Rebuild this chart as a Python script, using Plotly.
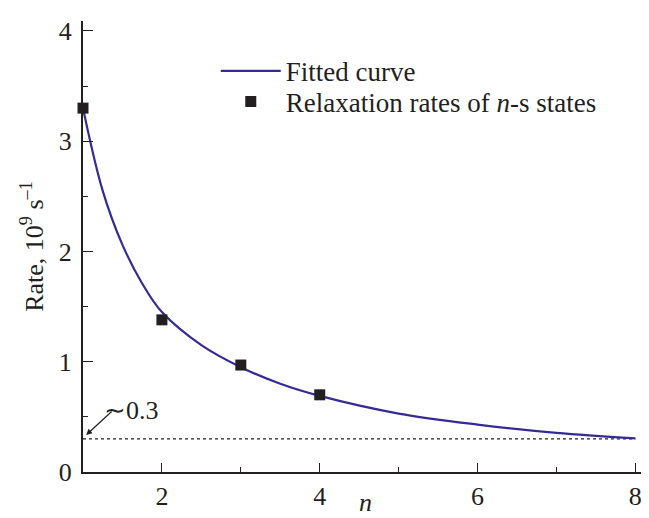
import plotly.graph_objects as go

# Measured relaxation rates of n-s states
n_states = [1, 2, 3, 4]
rates = [3.30, 1.38, 0.97, 0.70]

# Fitted curve
fit_n = [1.0, 1.25, 1.5, 1.75, 2.0, 2.5, 3.0, 3.5, 4.0, 5.0, 6.0, 7.0, 8.0]
fit_rate = [3.30, 2.55, 2.06, 1.71, 1.45, 1.15, 0.95, 0.80, 0.69, 0.53, 0.43, 0.355, 0.305]

# Asymptotic level
asym_n = [1, 8]
asym_rate = [0.3, 0.3]

x_ticks = [2, 4, 6, 8]
y_ticks = [0, 1, 2, 3, 4]

INK = "#231f20"
CURVE = "#352b95"
FONT = "Liberation Serif"
FS = 26
LFS = 27

fig = go.Figure()
fig.add_trace(go.Scatter(
    x=asym_n, y=asym_rate, mode="lines", showlegend=False,
    line=dict(color=INK, width=1.3, dash="dot"), hoverinfo="skip"))
fig.add_trace(go.Scatter(
    x=fit_n, y=fit_rate, mode="lines", name="Fitted curve", legend="legend",
    line=dict(color=CURVE, width=2.2, shape="spline", smoothing=1.0)))
fig.add_trace(go.Scatter(
    x=n_states, y=rates, mode="markers", legend="legend2",
    name="Relaxation rates of <i>n</i>-s states",
    marker=dict(symbol="square", size=11, color=INK),
    cliponaxis=False))

fig.add_annotation(x=1.04, y=0.335, xref="x", yref="y", text="",
                   showarrow=True, ax=27, ay=-25, arrowhead=2, arrowsize=1,
                   arrowwidth=1.2, arrowcolor=INK, standoff=0, startstandoff=0)
fig.add_annotation(x=1.62, y=0.56, xref="x", yref="y", text="∼0.3",
                   showarrow=False, font=dict(family=FONT, size=FS, color=INK))
# x-axis title
fig.add_annotation(x=0.5, y=-0.105, xref="paper", yref="paper", text="<i>n</i>",
                   xanchor="center", yanchor="bottom", showarrow=False,
                   font=dict(family=FONT, size=FS, color=INK))

leg_common = dict(xanchor="left", yanchor="middle", bgcolor="rgba(0,0,0,0)",
                  borderwidth=0, font=dict(family=FONT, size=LFS, color=INK),
                  itemwidth=60)

fig.update_layout(
    width=649, height=518,
    margin=dict(l=75, r=9, t=9, b=54),
    paper_bgcolor="white", plot_bgcolor="white",
    font=dict(family=FONT, size=FS, color=INK),
    showlegend=True,
    legend=dict(x=0.235, y=0.8886, **leg_common),
    legend2=dict(x=0.235, y=0.8204, **leg_common),
)
fig.update_xaxes(
    range=[1, 8.16], tickvals=x_ticks, ticktext=[str(v) for v in x_ticks],
    ticks="inside", ticklen=9, tickwidth=1.3, tickcolor=INK,
    minor=dict(tick0=1, dtick=1, ticks="inside", ticklen=5, tickwidth=1.3, tickcolor=INK),
    showline=True, linecolor=INK, linewidth=2.2, showgrid=False, zeroline=False,
    tickfont=dict(family=FONT, size=FS, color=INK))
fig.update_yaxes(
    range=[0, 4.09], tickvals=y_ticks, ticktext=[str(v) for v in y_ticks],
    ticks="inside", ticklen=10, tickwidth=1.3, tickcolor=INK,
    ticklabelstandoff=4,
    minor=dict(tick0=0, dtick=0.5, ticks="inside", ticklen=5, tickwidth=1.3, tickcolor=INK),
    showline=True, linecolor=INK, linewidth=2.2, showgrid=False, zeroline=False,
    title=dict(text="Rate, 10<sup>9</sup> s<sup>–1</sup>", font=dict(family=FONT, size=FS, color=INK), standoff=8),
    tickfont=dict(family=FONT, size=FS, color=INK))

fig.write_html("out.html")
